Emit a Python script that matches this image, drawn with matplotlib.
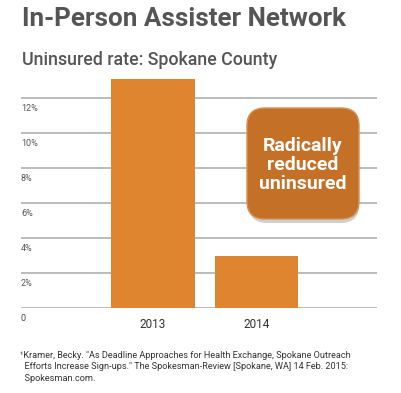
import matplotlib.pyplot as plt
from matplotlib.patches import FancyBboxPatch

years = ['2013', '2014']
rates = [13.1, 3.0]
ticks = [2, 4, 6, 8, 10, 12]
tick_labels = ['2%', '4%', '6%', '8%', '10%', '12%']

plt.rcParams['font.family'] = ['Roboto', 'DejaVu Sans']

fig = plt.figure(figsize=(4.02, 3.93), dpi=100)
W, H = 402, 393

# axes: left 21px, right 377px, bottom 308px, top 70px
ax = fig.add_axes([21 / W, (H - 308) / H, 356 / W, 238 / H])
ax.set_ylim(0, 238 / 17.5)
ax.set_xlim(-1.275, 2.165)

for t in [0] + ticks:
    ax.axhline(t, color='#a8a8a8', lw=1.1, zorder=1)

ax.bar(range(len(years)), rates, width=0.81, color='#df8530', zorder=2)

for t, lab in zip(ticks, tick_labels):
    ax.annotate(lab, (0, t), xycoords=('axes fraction', 'data'),
                xytext=(0, -4), textcoords='offset points',
                ha='left', va='top', fontsize=6.5, color='#555555')
ax.annotate('0', (0, 0), xycoords=('axes fraction', 'data'),
            xytext=(0, -4), textcoords='offset points',
            ha='left', va='top', fontsize=6.5, color='#444444')

for i, y in enumerate(years):
    ax.annotate(y, (i, 0), xycoords='data', xytext=(0, -7),
                textcoords='offset points', ha='center', va='top',
                fontsize=8.5, color='#333333')

ax.axis('off')

# callout box
shadow = FancyBboxPatch((249 / W, (H - 223) / H), 110 / W, 108 / H,
                        boxstyle='round,pad=0,rounding_size=0.045',
                        transform=fig.transFigure, facecolor='#888888',
                        edgecolor='none', alpha=0.4, zorder=3)
fig.patches.append(shadow)
box = FancyBboxPatch((247 / W, (H - 219) / H), 112 / W, 111 / H,
                     boxstyle='round,pad=0,rounding_size=0.045',
                     transform=fig.transFigure, facecolor='#c47127',
                     edgecolor='#d89050', lw=1, zorder=4)
fig.patches.append(box)
fig.text(303 / W, 1 - 165 / H, 'Radically\nreduced\nuninsured', ha='center',
         va='center', color='white', fontsize=14, fontweight='bold',
         linespacing=1.1, zorder=5)

fig.text(22 / W, 1 - 19 / H, 'In-Person Assister Network', fontsize=18.7,
         fontweight='bold', color='#555555', va='center', ha='left')
fig.text(22 / W, 1 - 60 / H, 'Uninsured rate: Spokane County', fontsize=12.8,
         fontweight='medium', color='#555555', va='center', ha='left')

fig.text(20 / W, 1 - 351 / H,
         '\u00b9Kramer, Becky. "As Deadline Approaches for Health Exchange, Spokane Outreach\n'
         '  Efforts Increase Sign-ups." The Spokesman-Review [Spokane, WA] 14 Feb. 2015:\n'
         '  Spokesman.com.',
         fontsize=6.6, color='#333333', va='top', ha='left', linespacing=1.35)

fig.savefig('out.png', dpi=100)
